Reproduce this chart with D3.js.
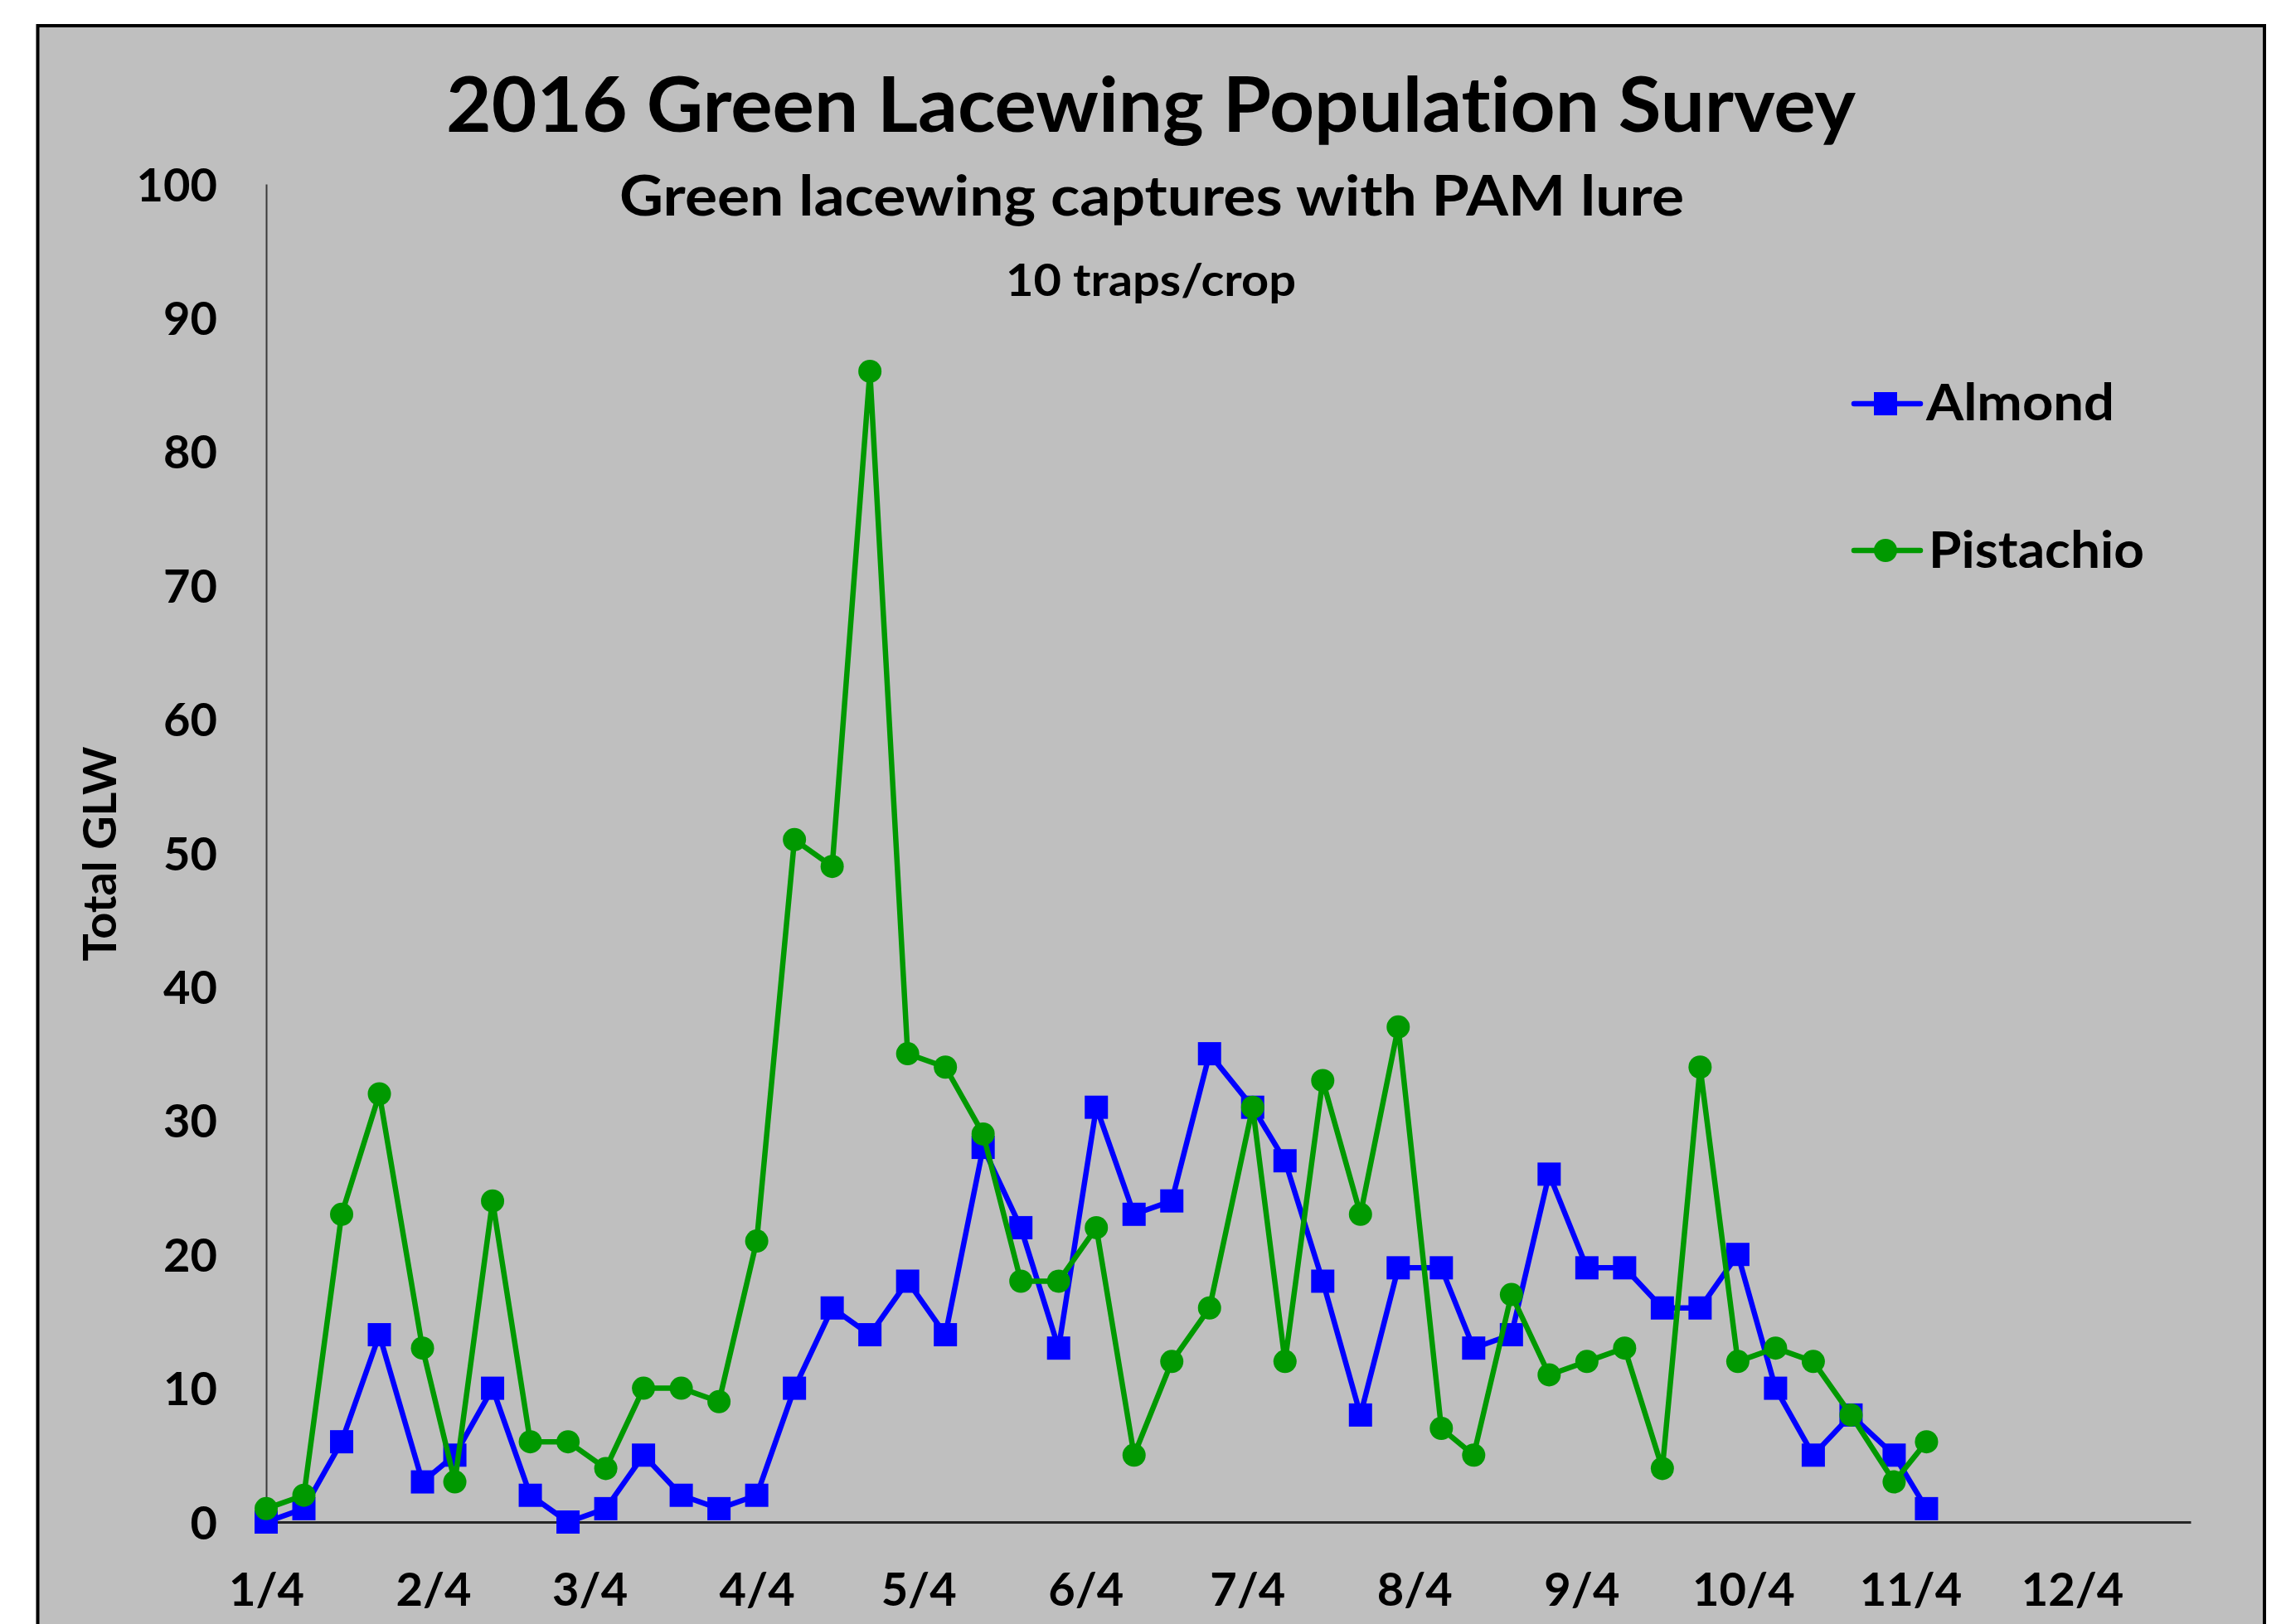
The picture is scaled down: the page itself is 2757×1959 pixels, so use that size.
<!DOCTYPE html>
<html>
<head>
<meta charset="utf-8">
<script src="https://cdn.jsdelivr.net/npm/d3@7"></script>
<style>
  html, body { margin: 0; padding: 0; background: #ffffff; }
  svg { display: block; }
  text {
    font-family: Lato, "Open Sans", "Noto Sans", sans-serif;
    font-weight: 700;
    fill: #000;
    font-variant-ligatures: none;
    font-feature-settings: "liga" 0, "clig" 0;
  }
</style>
</head>
<body>
<svg id="chart" width="2757" height="1959"></svg>
<script>
// Weekly trap check dates, 2016
const sampleDates = [
  "2016-01-04", "2016-01-11", "2016-01-18", "2016-01-25", "2016-02-02",
  "2016-02-08", "2016-02-15", "2016-02-22", "2016-02-29", "2016-03-07",
  "2016-03-14", "2016-03-21", "2016-03-28", "2016-04-04", "2016-04-11",
  "2016-04-18", "2016-04-25", "2016-05-02", "2016-05-09", "2016-05-16",
  "2016-05-23", "2016-05-30", "2016-06-06", "2016-06-13", "2016-06-20",
  "2016-06-27", "2016-07-05", "2016-07-11", "2016-07-18", "2016-07-25",
  "2016-08-01", "2016-08-09", "2016-08-15", "2016-08-22", "2016-08-29",
  "2016-09-05", "2016-09-12", "2016-09-19", "2016-09-26", "2016-10-03",
  "2016-10-10", "2016-10-17", "2016-10-24", "2016-11-01", "2016-11-07"
];

// Total green lacewings caught per check (10 traps per crop)
const almond = [
  0, 1, 6, 14, 3, 5, 10, 2, 0, 1,
  5, 2, 1, 2, 10, 16, 14, 18, 14, 28,
  22, 13, 31, 23, 24, 35, 31, 27, 18, 8,
  19, 19, 13, 14, 26, 19, 19, 16, 16, 20,
  10, 5, 8, 5, 1
];
const pistachio = [
  1, 2, 23, 32, 13, 3, 24, 6, 6, 4,
  10, 10, 9, 21, 51, 49, 86, 35, 34, 29,
  18, 18, 22, 5, 12, 16, 31, 12, 33, 23,
  37, 7, 5, 17, 11, 12, 13, 4, 34, 12,
  13, 12, 8, 3, 6
];

const seriesNames = ["Almond", "Pistachio"];
const seriesColors = ["#0000ff", "#009900"];

// Axis ticks
const xTickDates = [
  "2016-01-04", "2016-02-04", "2016-03-04", "2016-04-04", "2016-05-04", "2016-06-04",
  "2016-07-04", "2016-08-04", "2016-09-04", "2016-10-04", "2016-11-04", "2016-12-04"
];
const xTickLabels = ["1/4", "2/4", "3/4", "4/4", "5/4", "6/4", "7/4", "8/4", "9/4", "10/4", "11/4", "12/4"];
const yTicks = [0, 10, 20, 30, 40, 50, 60, 70, 80, 90, 100];
const xDomain = ["2016-01-04", "2016-12-26"];

const parse = d3.utcParse("%Y-%m-%d");
const svg = d3.select("#chart");

// Chart area with heavy black frame
svg.append("rect")
  .attr("x", 45.5).attr("y", 31)
  .attr("width", 2731 - 45.5).attr("height", 2100)
  .attr("fill", "#bfbfbf")
  .attr("stroke", "#000").attr("stroke-width", 4);

const x = d3.scaleUtc().domain(xDomain.map(parse)).range([321, 2642]);
const y = d3.scaleLinear().domain([0, 100]).range([1836, 222]);

// Titles
svg.append("text")
  .attr("x", 1388).attr("y", 159)
  .attr("text-anchor", "middle")
  .attr("font-size", 92)
  .attr("textLength", 1700).attr("lengthAdjust", "spacingAndGlyphs")
  .text("2016 Green Lacewing Population Survey");

svg.append("text")
  .attr("x", 1389).attr("y", 260)
  .attr("text-anchor", "middle")
  .attr("font-size", 67)
  .attr("textLength", 1284).attr("lengthAdjust", "spacingAndGlyphs")
  .text("Green lacewing captures with PAM lure");

svg.append("text")
  .attr("x", 1388).attr("y", 357)
  .attr("text-anchor", "middle")
  .attr("font-size", 53)
  .attr("textLength", 350).attr("lengthAdjust", "spacingAndGlyphs")
  .text("10 traps/crop");

// Y axis
const yAxis = svg.append("g")
  .attr("transform", "translate(321,0)")
  .call(d3.axisLeft(y).tickValues(yTicks).tickSize(0).tickPadding(59).tickFormat(d3.format("d")));
yAxis.select(".domain").attr("stroke", "#3a3a3a").attr("stroke-width", 2);
yAxis.selectAll("text")
  .attr("font-size", 56)
  .attr("font-family", null)
  .attr("dy", "0.36em");

// X axis
const xAxis = svg.append("g")
  .attr("transform", "translate(0,1836)")
  .call(d3.axisBottom(x)
    .tickValues(xTickDates.map(parse))
    .tickSize(0)
    .tickFormat((d, i) => xTickLabels[i]));
xAxis.select(".domain").attr("stroke", "#262626").attr("stroke-width", 3);
xAxis.selectAll("text")
  .attr("font-size", 56)
  .attr("font-family", null)
  .attr("y", 101)
  .attr("dy", 0);

// Y axis title
svg.append("text")
  .attr("transform", "translate(140,1030) rotate(-90)")
  .attr("text-anchor", "middle")
  .attr("font-size", 56)
  .attr("textLength", 259).attr("lengthAdjust", "spacingAndGlyphs")
  .text("Total GLW");

// Series: line plus markers, almond first so pistachio sits on top
const seriesData = [almond, pistachio].map((vals, s) =>
  vals.map((v, i) => ({ date: parse(sampleDates[i]), value: v, series: s })));

const line = d3.line().x(d => x(d.date)).y(d => y(d.value));
const squareSize = 28;
const circleR = 14;

seriesData.forEach((pts, s) => {
  const g = svg.append("g");
  g.append("path")
    .datum(pts)
    .attr("d", line)
    .attr("fill", "none")
    .attr("stroke", seriesColors[s])
    .attr("stroke-width", 6.5)
    .attr("stroke-linejoin", "round");
  if (s === 0) {
    g.selectAll("rect").data(pts).join("rect")
      .attr("x", d => x(d.date) - squareSize / 2)
      .attr("y", d => y(d.value) - squareSize / 2)
      .attr("width", squareSize).attr("height", squareSize)
      .attr("fill", seriesColors[s]);
  } else {
    g.selectAll("circle").data(pts).join("circle")
      .attr("cx", d => x(d.date))
      .attr("cy", d => y(d.value))
      .attr("r", circleR)
      .attr("fill", seriesColors[s]);
  }
});

// Legend
const legendRows = [
  { y: 487, textX: 2323, baseline: 507, width: 227 },
  { y: 664, textX: 2326, baseline: 685, width: 260 }
];
seriesNames.forEach((name, s) => {
  const r = legendRows[s];
  const g = svg.append("g");
  g.append("line")
    .attr("x1", 2236).attr("x2", 2316)
    .attr("y1", r.y).attr("y2", r.y)
    .attr("stroke", seriesColors[s]).attr("stroke-width", 6.5)
    .attr("stroke-linecap", "round");
  if (s === 0) {
    g.append("rect")
      .attr("x", 2274 - 14).attr("y", r.y - 14)
      .attr("width", 28).attr("height", 28)
      .attr("fill", seriesColors[s]);
  } else {
    g.append("circle")
      .attr("cx", 2274).attr("cy", r.y).attr("r", 14)
      .attr("fill", seriesColors[s]);
  }
  g.append("text")
    .attr("x", r.textX).attr("y", r.baseline)
    .attr("font-size", 62)
    .attr("textLength", r.width).attr("lengthAdjust", "spacingAndGlyphs")
    .text(name);
});
</script>
</body>
</html>
